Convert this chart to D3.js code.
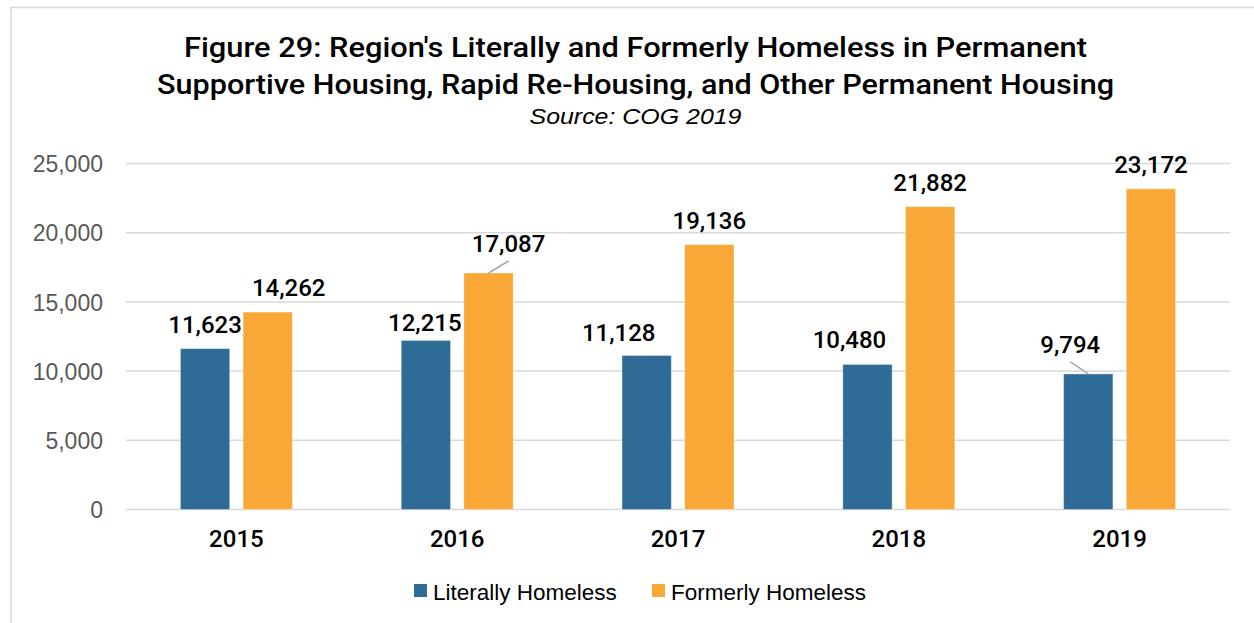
<!DOCTYPE html>
<html>
<head>
<meta charset="utf-8">
<script src="https://cdn.jsdelivr.net/npm/d3@7"></script>
<style>
  html, body { margin: 0; padding: 0; background: #fff; }
  svg { display: block; }
</style>
</head>
<body>
<svg id="chart" width="1254" height="623"></svg>
<script>
// ---- data ----
const years = ["2015", "2016", "2017", "2018", "2019"];
const seriesNames = ["Literally Homeless", "Formerly Homeless"];
const literallyHomeless = [11623, 12215, 11128, 10480, 9794];
const formerlyHomeless = [14262, 17087, 19136, 21882, 23172];
const yTicks = [0, 5000, 10000, 15000, 20000, 25000];
const titleLines = [
  "Figure 29: Region's Literally and Formerly Homeless in Permanent",
  "Supportive Housing, Rapid Re-Housing, and Other Permanent Housing"
];
const subtitle = "Source: COG 2019";

// ---- layout / style config (label nudges, in pixels) ----
const labelNudge = {
  "Literally Homeless": [[0, -16], [-1, -9], [-28, -14], [-18, -16], [-18, -21]],
  "Formerly Homeless": [[21, -16], [20, -21], [0, -16], [0, -16], [0, -16]]
};
const leaders = { "Literally Homeless": [false, false, false, false, true],
                  "Formerly Homeless": [false, true, false, false, false] };
const colors = { "Literally Homeless": "#2E6B97", "Formerly Homeless": "#F9A737" };

const svg = d3.select("#chart");
const plot = { left: 126, right: 1230, top: 163.5, bottom: 509.5 };
const baseFont = "'Liberation Sans', Arial, sans-serif";
const medFont = "Roboto, 'Liberation Sans', Arial, sans-serif";

// frame
svg.append("rect").attr("x", 11).attr("y", 7.5).attr("width", 1400).attr("height", 800)
  .attr("fill", "none").attr("stroke", "#D9D9D9").attr("stroke-width", 1.5);

// title
const tW = [903, 957];
const tY = [57, 94];
titleLines.forEach((t, i) => {
  svg.append("text").attr("x", 635.5).attr("y", tY[i]).attr("text-anchor", "middle")
    .attr("font-family", medFont).attr("font-weight", 500).attr("font-size", 28)
    .attr("textLength", tW[i]).attr("lengthAdjust", "spacingAndGlyphs")
    .attr("fill", "#000").text(t);
});
svg.append("text").attr("x", 635.5).attr("y", 124).attr("text-anchor", "middle")
  .attr("font-family", baseFont).attr("font-style", "italic").attr("font-size", 22)
  .attr("textLength", 212).attr("lengthAdjust", "spacingAndGlyphs")
  .attr("fill", "#000").text(subtitle);

// scales
const y = d3.scaleLinear().domain([0, 25000]).range([plot.bottom, plot.top]);
const x0 = d3.scaleBand().domain(years).range([plot.left, plot.right]).paddingInner(0.493).paddingOuter(0.2465);
const x1 = d3.scaleBand().domain(seriesNames).range([0, x0.bandwidth()]).paddingInner(0.2137);

// gridlines
svg.append("g").selectAll("line").data(yTicks).join("line")
  .attr("x1", plot.left).attr("x2", plot.right)
  .attr("y1", d => y(d)).attr("y2", d => y(d))
  .attr("stroke", "#D9D9D9").attr("stroke-width", 1.5);

// y axis labels
const yAxis = d3.axisLeft(y).tickValues(yTicks).tickSize(0).tickPadding(0)
  .tickFormat(d3.format(","));
const gy = svg.append("g").attr("transform", `translate(103,0)`).call(yAxis);
gy.select(".domain").remove();
gy.selectAll("text").attr("font-family", baseFont).attr("font-size", 23)
  .attr("fill", "#595959").attr("dy", "0.36em");

// x axis labels
const xAxis = d3.axisBottom(x0).tickSize(0).tickPadding(0);
const gx = svg.append("g").attr("transform", `translate(0,547)`).call(xAxis);
gx.select(".domain").remove();
gx.selectAll("text").attr("font-family", medFont).attr("font-size", 24)
  .attr("font-weight", 500).attr("fill", "#000").attr("dy", 0);

// bars
const seriesData = { "Literally Homeless": literallyHomeless, "Formerly Homeless": formerlyHomeless };
const rows = [];
seriesNames.forEach(s => years.forEach((yr, i) => rows.push({ s, yr, i, v: seriesData[s][i] })));

svg.append("g").selectAll("rect").data(rows).join("rect")
  .attr("x", d => x0(d.yr) + x1(d.s))
  .attr("width", x1.bandwidth())
  .attr("y", d => y(d.v))
  .attr("height", d => y(0) - y(d.v))
  .attr("fill", d => colors[d.s])
  .attr("stroke", "#ffffff").attr("stroke-opacity", 0.35).attr("stroke-width", 1);

// leader lines
svg.append("g").selectAll("line").data(rows.filter(d => leaders[d.s][d.i])).join("line")
  .attr("x1", d => x0(d.yr) + x1(d.s) + x1.bandwidth() / 2)
  .attr("y1", d => y(d.v))
  .attr("x2", d => x0(d.yr) + x1(d.s) + x1.bandwidth() / 2 + labelNudge[d.s][d.i][0])
  .attr("y2", d => y(d.v) + labelNudge[d.s][d.i][1] + 9)
  .attr("stroke", "#A6A6A6").attr("stroke-width", 1.5);

// value labels
svg.append("g").selectAll("text").data(rows).join("text")
  .attr("x", d => x0(d.yr) + x1(d.s) + x1.bandwidth() / 2 + labelNudge[d.s][d.i][0])
  .attr("y", d => y(d.v) + labelNudge[d.s][d.i][1])
  .attr("text-anchor", "middle")
  .attr("font-family", medFont).attr("font-weight", 500).attr("font-size", 24)
  .attr("fill", "#000")
  .text(d => d3.format(",")(d.v));

// legend
const legX = [414, 652];
const lg = svg.append("g").selectAll("g").data(seriesNames).join("g")
  .attr("transform", (d, i) => `translate(${legX[i]},584)`);
lg.append("rect").attr("width", 13).attr("height", 13).attr("fill", d => colors[d]);
lg.append("text").attr("x", 19).attr("y", 15.5)
  .attr("font-family", baseFont).attr("font-size", 22.5).attr("fill", "#000")
  .text(d => d);
</script>
</body>
</html>
